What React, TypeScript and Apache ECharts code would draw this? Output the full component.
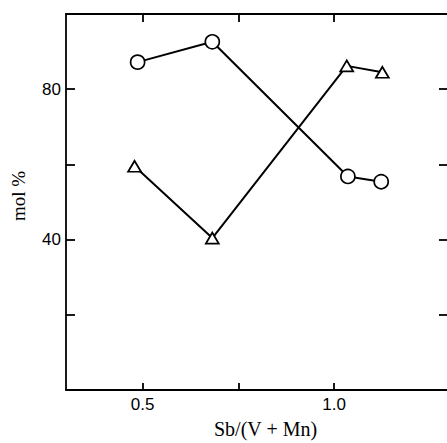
import React, { useEffect, useRef } from "react";
import * as echarts from "echarts";

const circleX = [0.487, 0.682, 1.036, 1.123];
const circleY = [87.2, 92.6, 56.8, 55.4];
const triangleX = [0.479, 0.682, 1.033, 1.126];
const triangleY = [59.5, 40.4, 86.2, 84.5];
const xTicks = [0.5, 0.75, 1.0];
const xLabels = [0.5, 1.0];
const yTicks = [20, 40, 60, 80];
const yLabels = [40, 80];

export default function App() {
  const ref = useRef<HTMLDivElement>(null);
  useEffect(() => {
    if (!ref.current) return;
    const chart = echarts.init(ref.current, null, { renderer: "svg" });
    const lineStyle = { color: "#000", width: 1.8 };
    const tickFont = { fontFamily: "Liberation Sans", fontSize: 17, color: "#000" };
    chart.setOption({
      animation: false,
      backgroundColor: "#fff",
      grid: { left: 66, top: 14, width: 383, height: 376 },
      xAxis: [
        {
          type: "value", min: 0.3, max: 1.3, position: "bottom",
          axisLine: { show: true, onZero: false, lineStyle },
          axisTick: { show: true, inside: true, length: 7, lineStyle, customValues: xTicks },
          axisLabel: { ...tickFont, margin: 6, customValues: xLabels, formatter: (v: number) => v.toFixed(1) },
          splitLine: { show: false },
        },
        {
          type: "value", min: 0.3, max: 1.3, position: "top",
          axisLine: { show: true, onZero: false, lineStyle },
          axisTick: { show: true, inside: true, length: 8, lineStyle, customValues: xTicks },
          axisLabel: { show: false },
          splitLine: { show: false },
        },
      ],
      yAxis: [
        {
          type: "value", min: 0, max: 100, position: "left",
          axisLine: { show: true, onZero: false, lineStyle },
          axisTick: { show: true, inside: true, length: 9, lineStyle, customValues: yTicks },
          axisLabel: { ...tickFont, margin: 5, customValues: yLabels, formatter: (v: number) => String(v) },
          splitLine: { show: false },
        },
        {
          type: "value", min: 0, max: 100, position: "right",
          axisLine: { show: true, onZero: false, lineStyle },
          axisTick: { show: true, inside: true, length: 10, lineStyle, customValues: yTicks },
          axisLabel: { show: false },
          splitLine: { show: false },
        },
      ],
      graphic: [
        {
          type: "text", x: 214, y: 419,
          style: { text: "Sb/(V + Mn)", font: '20px "Liberation Serif"', fill: "#000" },
        },
        {
          type: "text", x: 9, y: 196, rotation: Math.PI / 2, originX: 0, originY: 0,
          style: { text: "mol %", font: '19px "Liberation Serif"', fill: "#000", align: "center", verticalAlign: "top" },
        },
      ],
      series: [
        {
          type: "line",
          xAxisIndex: 0, yAxisIndex: 0,
          data: circleX.map((x, i) => [x, circleY[i]]),
          symbol: "circle", symbolSize: 14,
          lineStyle: { color: "#000", width: 2 },
          itemStyle: { color: "#fff", borderColor: "#000", borderWidth: 1.7 },
          z: 3,
        },
        {
          type: "line",
          xAxisIndex: 0, yAxisIndex: 0,
          data: triangleX.map((x, i) => [x, triangleY[i]]),
          symbol: "triangle", symbolSize: [13, 11],
          lineStyle: { color: "#000", width: 2 },
          itemStyle: { color: "#fff", borderColor: "#000", borderWidth: 1.7 },
          z: 3,
        },
      ],
    });
    return () => chart.dispose();
  }, []);
  return (
    <div
      ref={ref}
      style={{ position: "fixed", left: 0, top: 0, width: 470, height: 443, background: "#fff" }}
    />
  );
}
